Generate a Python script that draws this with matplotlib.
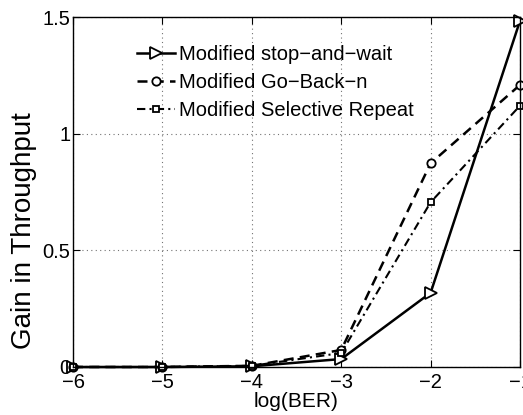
import numpy as np
import matplotlib
matplotlib.use('Agg')
import matplotlib.pyplot as plt

plt.rcParams['font.family'] = ['Liberation Sans', 'DejaVu Sans']

log_ber = [-6, -5, -4, -3, -2, -1]
stop_wait = [0.0, 0.0, 0.003, 0.034, 0.318, 1.484]
go_back_n = [0.0, 0.0, 0.005, 0.073, 0.873, 1.209]
sel_repeat = [0.0, 0.0, 0.005, 0.060, 0.706, 1.120]

fig = plt.figure(figsize=(5.23, 4.15), dpi=100)
ax = fig.add_axes([0.1396, 0.1157, 0.8547, 0.8433])

mk = dict(markerfacecolor='white', markeredgecolor='k', markeredgewidth=1.3, clip_on=False)
ax.plot(log_ber, stop_wait, 'k-', lw=1.8, marker='>', ms=8, label='Modified stop\u2212and\u2212wait', **mk)
ax.plot(log_ber, go_back_n, color='k', ls=(0, (4, 2.5)), lw=1.8, marker='o', ms=6,
        label='Modified Go\u2212Back\u2212n', **mk)
ax.plot(log_ber, sel_repeat, color='k', ls=(0, (4, 2, 1, 2)), lw=1.5, marker='s', ms=5,
        label='Modified Selective Repeat', **mk)

ax.set_xlim(-6, -1)
ax.set_ylim(0, 1.5)
ax.set_xticks(log_ber)
ax.set_xticklabels(['\u2212%d' % abs(v) for v in log_ber])
ax.set_yticks([0, 0.5, 1, 1.5])
ax.set_yticklabels(['0', '0.5', '1', '1.5'])
ax.tick_params(direction='in', labelsize=14.5, length=5, top=True, right=True)
ax.tick_params(axis='x', pad=4)
ax.tick_params(axis='y', pad=2)
ax.grid(True, linestyle=(0, (1, 3)), color='0.45', lw=0.8)
for s in ax.spines.values():
    s.set_linewidth(1.0)

ax.set_xlabel('log(BER)', fontsize=15, labelpad=0)
ax.set_ylabel('Gain in Throughput', fontsize=20)
ax.yaxis.set_label_coords(-0.08, 0.39)

ax.legend(loc='upper left', bbox_to_anchor=(0.143, 0.92), frameon=False, fontsize=14.5,
          handlelength=1.9, handletextpad=0.2, labelspacing=0.45, borderaxespad=0, borderpad=0)

fig.savefig('out.png', dpi=100)
